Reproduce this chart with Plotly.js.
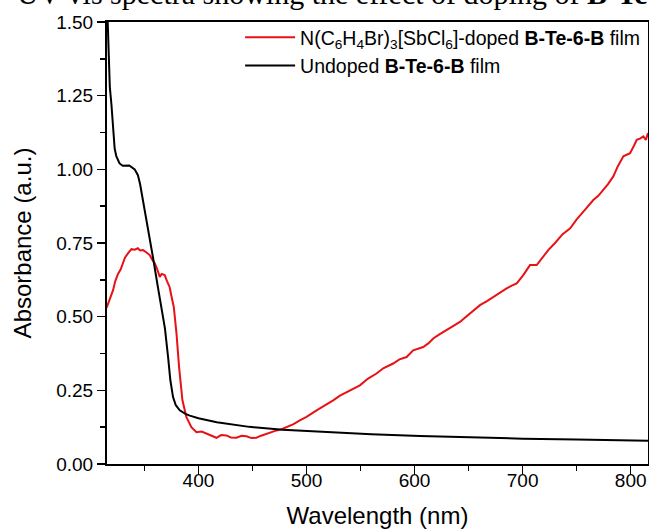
<!DOCTYPE html>
<html>
<head>
<meta charset="utf-8">
<script src="https://cdn.plot.ly/plotly-3.0.1.min.js"></script>
<style>
  html, body { margin: 0; padding: 0; background: #fff; }
  #chart { width: 649px; height: 529px; }
</style>
</head>
<body>
<div id="chart"></div>
<script>
// Doped film (red)
const wavelengthDoped = [315, 318, 321, 323, 325.6, 328, 330.2, 332, 334.8, 338, 341, 344, 346, 348.7, 352, 354.9, 357, 359.6, 362, 364.2, 366, 368.8, 371, 373.4, 375, 377.2, 379.7, 382.1, 385.2, 388.9, 393.5, 398.2, 403, 407.4, 412, 416.7, 421, 425.9, 430, 435.2, 440, 444.5, 449, 453.7, 458, 463, 468, 472.3, 477, 481.5, 488, 493.8, 500, 509.3, 517, 524.7, 531, 537.1, 543, 549.4, 557, 564.8, 571, 580.2, 586, 592.6, 598.7, 603, 608, 613, 617.3, 623, 629.6, 636, 642, 646, 651.2, 656, 660.5, 667, 672.8, 679, 685.2, 690, 694.5, 700.6, 706.8, 713, 719.1, 723.7, 730, 737, 744, 750, 757, 765.4, 770, 774.7, 779, 783.9, 788, 793.2, 799.4, 803, 805.6, 809, 811.7, 814, 816];
const absDoped = [0.53, 0.56, 0.59, 0.62, 0.645, 0.66, 0.686, 0.70, 0.715, 0.729, 0.727, 0.732, 0.725, 0.726, 0.718, 0.709, 0.695, 0.681, 0.66, 0.635, 0.645, 0.641, 0.62, 0.60, 0.57, 0.533, 0.443, 0.329, 0.216, 0.159, 0.125, 0.108, 0.11, 0.103, 0.095, 0.089, 0.098, 0.097, 0.09, 0.089, 0.096, 0.094, 0.088, 0.089, 0.096, 0.103, 0.108, 0.114, 0.118, 0.125, 0.135, 0.148, 0.16, 0.182, 0.198, 0.216, 0.232, 0.244, 0.255, 0.267, 0.29, 0.307, 0.325, 0.341, 0.355, 0.363, 0.386, 0.39, 0.397, 0.41, 0.426, 0.44, 0.454, 0.468, 0.482, 0.495, 0.511, 0.525, 0.539, 0.553, 0.567, 0.582, 0.596, 0.605, 0.613, 0.641, 0.675, 0.675, 0.703, 0.726, 0.75, 0.78, 0.80, 0.83, 0.86, 0.896, 0.91, 0.93, 0.95, 0.976, 1.01, 1.044, 1.055, 1.08, 1.10, 1.105, 1.112, 1.10, 1.123];

// Undoped film (black)
const wavelengthUndoped = [315, 317, 318, 319.5, 321, 322.5, 324, 327, 330, 336, 341, 344, 346, 348.5, 350.5, 353, 355, 358, 362.5, 366, 369, 372, 374, 376.5, 379, 382.7, 388, 392, 400, 417, 447, 478, 525, 560, 605, 650, 700, 750, 800, 816];
const absUndoped = [1.62, 1.40, 1.28, 1.22, 1.13, 1.07, 1.045, 1.02, 1.012, 1.013, 1.0, 0.98, 0.95, 0.90, 0.86, 0.81, 0.76, 0.70, 0.60, 0.52, 0.46, 0.36, 0.285, 0.227, 0.20, 0.182, 0.17, 0.164, 0.155, 0.142, 0.126, 0.116, 0.106, 0.101, 0.095, 0.090, 0.086, 0.083, 0.080, 0.079];

const seriesNames = [
  'N(C<sub>6</sub>H<sub>4</sub>Br)<sub>3</sub>[SbCl<sub>6</sub>]-doped <b>B-Te-6-B</b> film',
  'Undoped <b>B-Te-6-B</b> film'
];
const xTickVals = [400, 500, 600, 700, 800];
const yTickVals = [0, 0.25, 0.5, 0.75, 1.0, 1.25, 1.5];
const captionText = 'UV-vis spectra showing the effect of doping of <b>B-Te-6-B</b> film';

const FONT = 'Liberation Sans, Arial, sans-serif';

const traces = [
  { x: wavelengthDoped, y: absDoped, type: 'scatter', mode: 'lines', name: seriesNames[0],
    line: { color: 'rgb(232,18,22)', width: 2 } },
  { x: wavelengthUndoped, y: absUndoped, type: 'scatter', mode: 'lines', name: seriesNames[1],
    line: { color: '#000000', width: 2 } }
];

const layout = {
  width: 649, height: 529,
  margin: { l: 107, r: 1, t: 22, b: 65, pad: 0 },
  paper_bgcolor: '#ffffff', plot_bgcolor: '#ffffff',
  font: { family: FONT, color: '#000', size: 19 },
  showlegend: true,
  legend: {
    x: 0.246, y: 1.009, xanchor: 'left', yanchor: 'top',
    bgcolor: 'rgba(0,0,0,0)', borderwidth: 0,
    font: { family: FONT, size: 19.5, color: '#000' },
    itemwidth: 50, tracegroupgap: 0
  },
  xaxis: {
    range: [315.4, 816], tickvals: xTickVals, ticktext: xTickVals.map(String),
    ticks: 'outside', ticklen: 8, tickwidth: 1.5, tickcolor: '#000',
    ticklabelstandoff: -10,
    minor: { dtick: 50, tick0: 0, ticks: 'outside', ticklen: 5, tickwidth: 1.5, tickcolor: '#000' },
    showline: true, linecolor: '#000', linewidth: 2, mirror: true,
    showgrid: false, zeroline: false,
    tickfont: { family: FONT, size: 19 },
    title: { text: 'Wavelength (nm)', font: { family: FONT, size: 24 }, standoff: 17 }
  },
  yaxis: {
    range: [0, 1.5], tickvals: yTickVals, tickformat: '.2f',
    ticks: 'outside', ticklen: 8, tickwidth: 1.5, tickcolor: '#000',
    minor: { dtick: 0.125, tick0: 0, ticks: 'outside', ticklen: 5, tickwidth: 1.5, tickcolor: '#000' },
    showline: true, linecolor: '#000', linewidth: 2, mirror: true,
    showgrid: false, zeroline: false,
    tickfont: { family: FONT, size: 19 },
    title: { text: 'Absorbance (a.u.)', font: { family: FONT, size: 24 }, standoff: 18 }
  },
  annotations: [{
    text: captionText, xref: 'paper', yref: 'paper',
    x: -0.17, y: 1.064, xanchor: 'left', yanchor: 'middle', showarrow: false,
    font: { family: 'Liberation Serif, Times New Roman, serif', size: 30, color: '#000' }
  }]
};

Plotly.newPlot('chart', traces, layout, { displayModeBar: false, staticPlot: true });
</script>
</body>
</html>
